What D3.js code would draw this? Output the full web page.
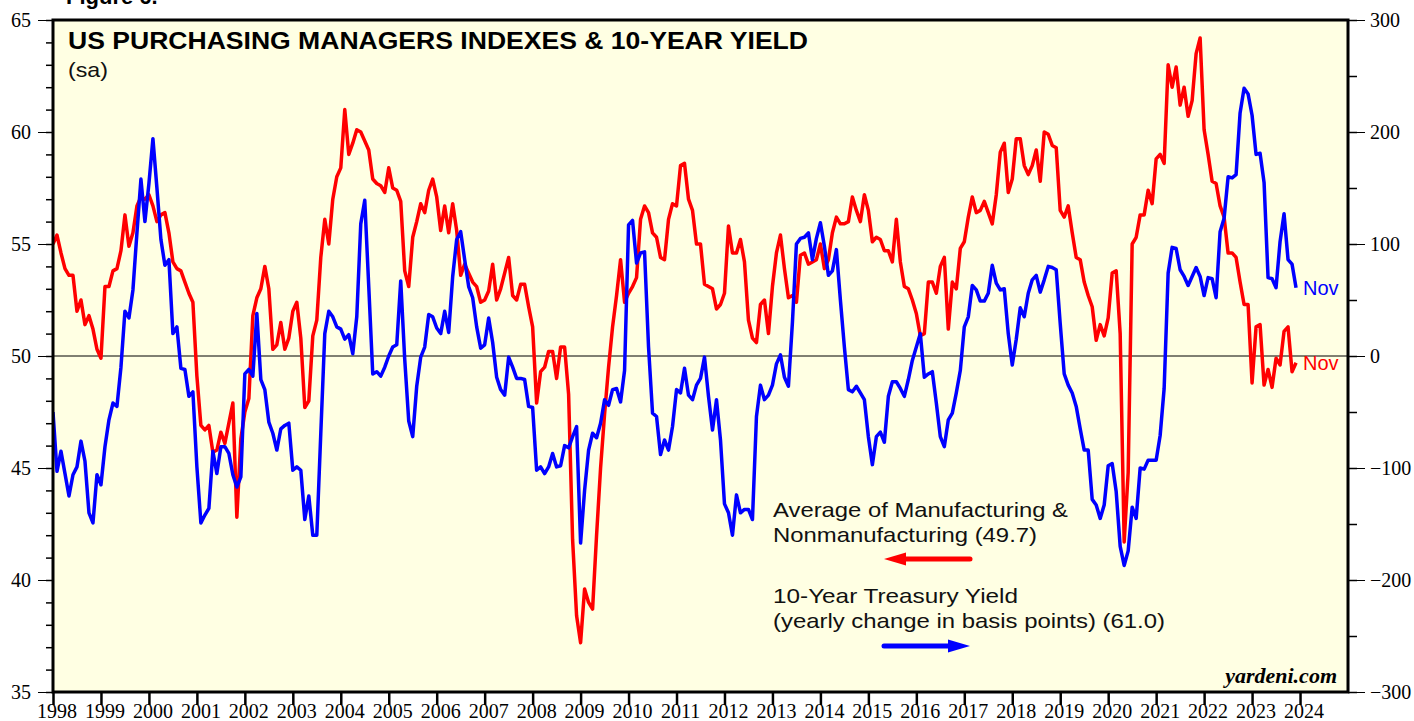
<!DOCTYPE html>
<html>
<head>
<meta charset="utf-8">
<script src="https://cdn.jsdelivr.net/npm/d3@7"></script>
<style>
  body { margin: 0; background: #fff; }
  svg { display: block; }
  .sans { font-family: "Liberation Sans", Arial, sans-serif; }
  .serif { font-family: "Liberation Serif", "Times New Roman", serif; }
</style>
</head>
<body>
<div id="graf"></div>
<script>
// Datos: valores mensuales, el primero es dic-1997 y el ultimo nov-2023
const primerMes = { anio: 1997, mes: 12 }

// Promedio ISM manufactura y no manufactura (eje izquierdo)
const pmiPromedio = [
  55.0, 55.4, 54.6, 53.9, 53.6, 53.6, 52.0, 52.5, 51.4, 51.8, 51.2, 50.3,
  49.9, 53.1, 53.1, 53.8, 53.9, 54.7, 56.3, 54.9, 55.5, 56.7, 57.1, 57.0,
  57.2, 56.7, 56.0, 56.3, 56.4, 55.5, 54.2, 53.9, 53.8, 53.3, 52.8, 52.4,
  49.1, 46.9, 46.7, 46.9, 45.7, 45.8, 46.6, 46.1, 47.0, 47.9, 42.8, 46.3,
  47.5, 48.1, 51.8, 52.6, 53.0, 54.0, 53.0, 50.3, 50.5, 51.5, 50.3, 50.8,
  52.0, 52.4, 50.8, 47.7, 48.0, 50.9, 51.6, 54.4, 56.1, 55.0, 57.0, 58.0,
  58.4, 61.0, 59.0, 59.5, 60.1, 60.0, 59.6, 59.2, 57.9, 57.7, 57.6, 57.3,
  58.4, 57.5, 57.4, 56.9, 53.8, 53.1, 55.3, 56.0, 56.8, 56.4, 57.4, 57.9,
  57.1, 55.6, 56.7, 55.5, 56.8, 55.6, 53.6, 54.1, 53.7, 53.3, 53.1, 52.4,
  52.5, 52.9, 54.1, 52.5, 53.0, 53.7, 54.4, 52.7, 52.5, 53.2, 53.2, 52.2,
  51.3, 47.9, 49.3, 49.5, 50.2, 50.2, 49.0, 50.4, 50.4, 48.3, 41.8, 38.4,
  37.2, 39.6, 39.0, 38.7, 42.0, 45.0, 47.4, 49.5, 51.3, 52.7, 54.3, 52.4,
  52.8, 53.1, 53.5, 56.1, 56.7, 56.4, 55.5, 55.3, 54.4, 54.3, 56.1, 56.8,
  56.7, 58.5, 58.6, 57.0, 56.5, 55.0, 55.0, 53.2, 53.1, 53.0, 52.1, 52.3,
  52.8, 55.8, 54.6, 54.6, 55.2, 54.2, 51.6, 50.8, 50.6, 52.3, 52.5, 51.0,
  53.1, 54.6, 55.4, 53.9, 52.6, 52.7, 52.4, 54.5, 54.6, 54.1, 54.2, 54.3,
  55.0, 53.9, 54.3, 55.5, 56.2, 55.9, 55.9, 56.0, 57.1, 56.5, 56.0, 57.2,
  56.5, 55.1, 55.3, 55.2, 54.7, 54.7, 54.2, 56.1, 54.2, 53.1, 53.0, 52.5,
  51.9, 50.9, 51.0, 53.3, 53.3, 52.8, 54.0, 54.4, 51.2, 53.3, 53.0, 54.8,
  55.1, 56.2, 57.1, 56.4, 56.5, 56.9, 56.4, 55.9, 57.2, 59.1, 59.5, 57.3,
  57.9, 59.7, 59.7, 58.5, 58.1, 58.5, 59.2, 57.8, 60.0, 59.9, 59.4, 59.3,
  56.5, 56.2, 56.7, 55.5, 54.4, 54.3, 53.3, 52.7, 52.2, 50.7, 51.4, 50.9,
  51.7, 53.7, 53.8, 51.0, 41.7, 44.8, 55.0, 55.3, 56.3, 56.3, 57.4, 56.8,
  58.8, 59.0, 58.6, 63.0, 62.0, 62.9, 61.2, 62.0, 60.7, 61.4, 63.5, 64.2,
  60.1, 59.0, 57.8, 57.7, 56.7, 56.2, 54.6, 54.6, 54.4, 53.3, 52.3, 52.3,
  48.8, 51.3, 51.4, 48.7, 49.4, 48.6, 49.9, 49.6, 51.1, 51.3, 49.3, 49.7
]

// Cambio anual del bono a 10 anios, puntos base (eje derecho)
const cambioBono = [
  -50, -103, -85, -105, -125, -106, -99, -76, -94, -140, -149, -106,
  -115, -81, -57, -42, -45, -10, 40, 34, 59, 110, 158, 120,
  154, 194, 150, 104, 81, 86, 20, 26, -11, -12, -36, -32,
  -99, -149, -142, -136, -85, -105, -81, -81, -87, -106, -117, -108,
  -16, -12, -18, 38, -21, -30, -59, -69, -84, -65, -62, -60,
  -102, -99, -102, -146, -125, -160, -160, -69, 20, 40, 35, 26,
  24, 15, 19, 2, 35, 118, 139, 62, -16, -14, -18, -10,
  0, 8, 10, 67, -3, -58, -72, -27, -1, 8, 37, 35,
  25, 20, 40, 21, 71, 104, 111, 86, 62, 52, 26, 7,
  10, 34, 12, -19, -30, -35, -1, -10, -20, -20, -21, -45,
  -46, -102, -99, -105, -99, -87, -99, -98, -80, -82, -72, -63,
  -167, -120, -84, -69, -73, -60, -39, -44, -30, -29, -41, -13,
  117, 121, 83, 92, 93, 8, -51, -54, -88, -75, -84, -63,
  -30, -33, -11, -35, -39, -26, -20, -1, -36, -66, -39, -75,
  -132, -140, -160, -124, -140, -137, -137, -146, -54, -26, -39, -35,
  -26, -7, 1, -19, -27, 30, 100, 105, 106, 110, 86, 105,
  119, 98, 72, 76, 95, 50, 8, -30, -32, -27, -33, -39,
  -72, -97, -72, -68, -77, -36, -23, -23, -29, -36, -21, -4,
  8, 20, -19, -16, -14, -42, -72, -81, -57, -51, -33, -13,
  26, 35, 63, 59, 49, 49, 56, 81, 65, 59, 60, 20,
  -8, 15, 43, 35, 56, 68, 72, 57, 68, 80, 79, 77,
  29, -16, -26, -33, -45, -65, -84, -84, -128, -133, -145, -133,
  -98, -96, -121, -170, -187, -174, -135, -145, -100, -101, -93, -93,
  -93, -71, -29, 74, 97, 96, 77, 71, 63, 71, 79, 71,
  54, 70, 69, 52, 111, 123, 160, 159, 162, 217, 239, 234,
  215, 180, 181, 155, 70, 69, 61, 102, 127, 86, 82, 61
]

const anios = d3.range(1998, 2025)
const ticksIzq = d3.range(35, 66, 5)
const ticksDer = d3.range(-300, 301, 100)
const etiquetaFin = "Nov"

// Posicion de cada mes: fin de mes en anios decimales
const fecha = (i) => primerMes.anio + (primerMes.mes + i) / 12

const anchoTotal = 1414
const altoTotal = 721
const margins = { top: 20, right: 66, bottom: 29, left: 53 }
const ancho = anchoTotal - margins.left - margins.right
const alto = altoTotal - margins.top - margins.bottom

const svg = d3
  .select("#graf")
  .append("svg")
  .attr("width", anchoTotal)
  .attr("height", altoTotal)

// Escaladores
const x = d3.scaleLinear().domain([1998, 2025]).range([0, ancho])
const yIzq = d3.scaleLinear().domain([35, 65]).range([alto, 0])
const yDer = d3.scaleLinear().domain([-300, 300]).range([alto, 0])

const g = svg.append("g").attr("transform", `translate(${margins.left}, ${margins.top})`)

g.append("rect").attr("width", ancho).attr("height", alto).attr("fill", "#ffffe3")

g.append("clipPath").attr("id", "clip").append("rect").attr("width", ancho).attr("height", alto)

// Linea de cero
g.append("line")
  .attr("x1", 0)
  .attr("x2", ancho)
  .attr("y1", yDer(0))
  .attr("y2", yDer(0))
  .attr("stroke", "#000")
  .attr("stroke-width", 1)

// Series
const series = [
  { valores: pmiPromedio, y: yIzq, color: "#ff0000" },
  { valores: cambioBono, y: yDer, color: "#0000ff" },
]
series.forEach((s) => {
  const linea = d3
    .line()
    .x((d, i) => x(fecha(i)))
    .y((d) => s.y(d))
  g.append("path")
    .datum(s.valores)
    .attr("clip-path", "url(#clip)")
    .attr("d", linea)
    .attr("fill", "none")
    .attr("stroke", s.color)
    .attr("stroke-width", 3.5)
    .attr("stroke-linejoin", "round")
})

// Etiquetas "Nov"
series.forEach((s) => {
  const n = s.valores.length - 1
  g.append("text")
    .attr("class", "sans")
    .attr("x", x(fecha(n)) + 7)
    .attr("y", s.y(s.valores[n]) + 7)
    .attr("font-size", 20)
    .attr("fill", s.color)
    .text(etiquetaFin)
})

// Ejes
const ejeIzqMenor = g
  .append("g")
  .call(d3.axisLeft(yIzq).tickValues(d3.range(35, 66, 1)).tickSize(7).tickFormat(""))
ejeIzqMenor.selectAll("line").attr("stroke-width", 1.5)
const ejeIzq = g
  .append("g")
  .call(d3.axisLeft(yIzq).tickValues(ticksIzq).tickSize(15).tickPadding(7))
ejeIzq.selectAll("text").attr("class", "serif").attr("font-size", 20).attr("fill", "#000")

const ejeDerMenor = g
  .append("g")
  .attr("transform", `translate(${ancho}, 0)`)
  .call(d3.axisRight(yDer).tickValues(d3.range(-300, 301, 50)).tickSize(9).tickFormat(""))
ejeDerMenor.selectAll("line").attr("stroke-width", 1.5)
const ejeDer = g
  .append("g")
  .attr("transform", `translate(${ancho}, 0)`)
  .call(d3.axisRight(yDer).tickValues(ticksDer).tickSize(17).tickPadding(5))
ejeDer.selectAll("text").attr("class", "serif").attr("font-size", 20).attr("fill", "#000")

const ejeX = g
  .append("g")
  .attr("transform", `translate(0, ${alto})`)
  .call(d3.axisBottom(x).tickValues(anios).tickSize(13).tickFormat(""))
ejeX.selectAll("line").attr("stroke-width", 2.5)
ejeX
  .selectAll(".anio")
  .data(anios)
  .join("text")
  .attr("class", "serif anio")
  .attr("x", (d) => x(d) + 4)
  .attr("y", 26)
  .attr("font-size", 20)
  .attr("fill", "#000")
  .text((d) => d)

svg.selectAll(".domain").remove()

// Marco
g.append("rect")
  .attr("width", ancho)
  .attr("height", alto)
  .attr("fill", "none")
  .attr("stroke", "#000")
  .attr("stroke-width", 3)

// Textos
const texto = (t, px, py, size, largo) => {
  const el = svg.append("text")
    .attr("class", "sans")
    .attr("x", px)
    .attr("y", py)
    .attr("font-size", size)
    .attr("fill", "#111")
    .text(t)
  if (largo) el.attr("textLength", largo).attr("lengthAdjust", "spacingAndGlyphs")
  return el
}

texto("Figure 6.", 66, 4, 22).attr("font-weight", "bold").attr("fill", "#000")
texto("US PURCHASING MANAGERS INDEXES & 10-YEAR YIELD", 68, 48.5, 24, 740)
  .attr("font-weight", "bold")
  .attr("fill", "#000")
texto("(sa)", 68, 77, 21, 40)

const leyenda = [
  { lineas: ["Average of Manufacturing &", "Nonmanufacturing (49.7)"], largos: [295, 264], y: 517, yFlecha: 559, color: "#ff0000", izq: true },
  { lineas: ["10-Year Treasury Yield", "(yearly change in basis points) (61.0)"], largos: [245, 392], y: 603, yFlecha: 646, color: "#0000ff", izq: false },
]
leyenda.forEach((l) => {
  l.lineas.forEach((t, i) => texto(t, 773, l.y + i * 25, 21, l.largos[i]))
  const x0 = 884, x1 = 970
  const punta = l.izq ? x0 : x1
  const dir = l.izq ? 1 : -1
  svg.append("line")
    .attr("x1", l.izq ? x0 + 15 : x0)
    .attr("x2", l.izq ? x1 : x1 - 15)
    .attr("y1", l.yFlecha)
    .attr("y2", l.yFlecha)
    .attr("stroke", l.color)
    .attr("stroke-width", 5)
    .attr("stroke-linecap", "round")
  svg.append("path")
    .attr("d", `M${punta},${l.yFlecha} L${punta + dir * 22},${l.yFlecha - 6.5} L${punta + dir * 22},${l.yFlecha + 6.5} Z`)
    .attr("fill", l.color)
})

svg.append("text")
  .attr("class", "serif")
  .attr("x", 1337)
  .attr("y", 683)
  .attr("text-anchor", "end")
  .attr("font-size", 22)
  .attr("font-weight", "bold")
  .attr("font-style", "italic")
  .text("yardeni.com")
</script>
</body>
</html>
